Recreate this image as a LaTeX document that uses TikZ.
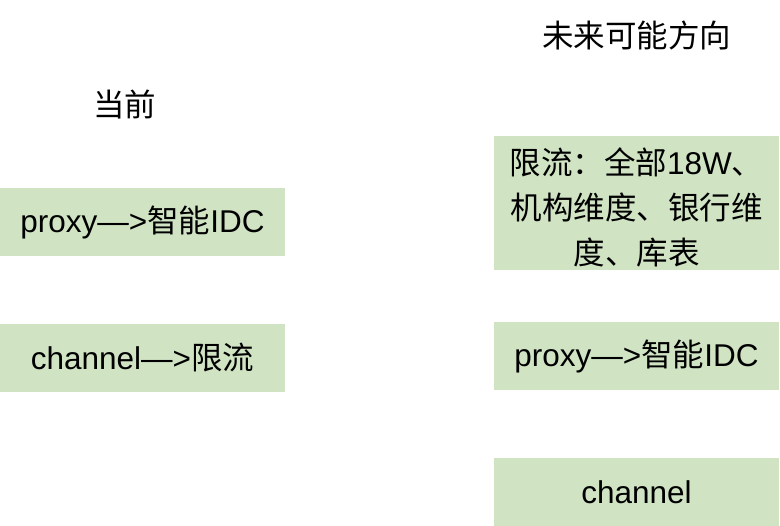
\documentclass[tikz,border=0pt]{standalone}
\usepackage{fontspec}
\setmainfont{Liberation Sans}
\newfontfamily\cjk{Noto Sans CJK SC}
\definecolor{boxgreen}{RGB}{208,228,196}
\begin{document}
\begin{tikzpicture}[x=1pt,y=-1pt,
  gbox/.style={fill=boxgreen,draw=none,inner sep=0pt,align=center,font=\fontsize{31.5}{45}\selectfont},
  btext/.style={inner sep=0pt,align=center,font=\fontsize{31.5}{45}\selectfont},
  title/.style={inner sep=0pt,font=\cjk\fontsize{31.5}{36}\selectfont}]
\useasboundingbox (0,0) rectangle (780,526);
\node[title] (t1) at (124.5,104) {当前};
\node[title] (t2) at (636.5,35) {未来可能方向};
\node[gbox,minimum width=285,minimum height=68] (l1) at (142.5,222) {proxy—>{\cjk 智能}IDC};
\node[gbox,minimum width=285,minimum height=68] (l2) at (142.5,358) {channel—>{\cjk 限流}};
\node[gbox,minimum width=285,minimum height=134] (r1) at (636.5,203) {};
\node[btext] (r1t) at ([yshift=-4pt]r1.center) {{\cjk 限流：全部}18W{\cjk 、}\\{\cjk 机构维度、银行维}\\{\cjk 度、库表}};
\node[gbox,minimum width=285,minimum height=68] (r2) at (636.5,356) {proxy—>{\cjk 智能}IDC};
\node[gbox,minimum width=285,minimum height=68] (r3) at (636.5,492) {channel};
\end{tikzpicture}
\end{document}
